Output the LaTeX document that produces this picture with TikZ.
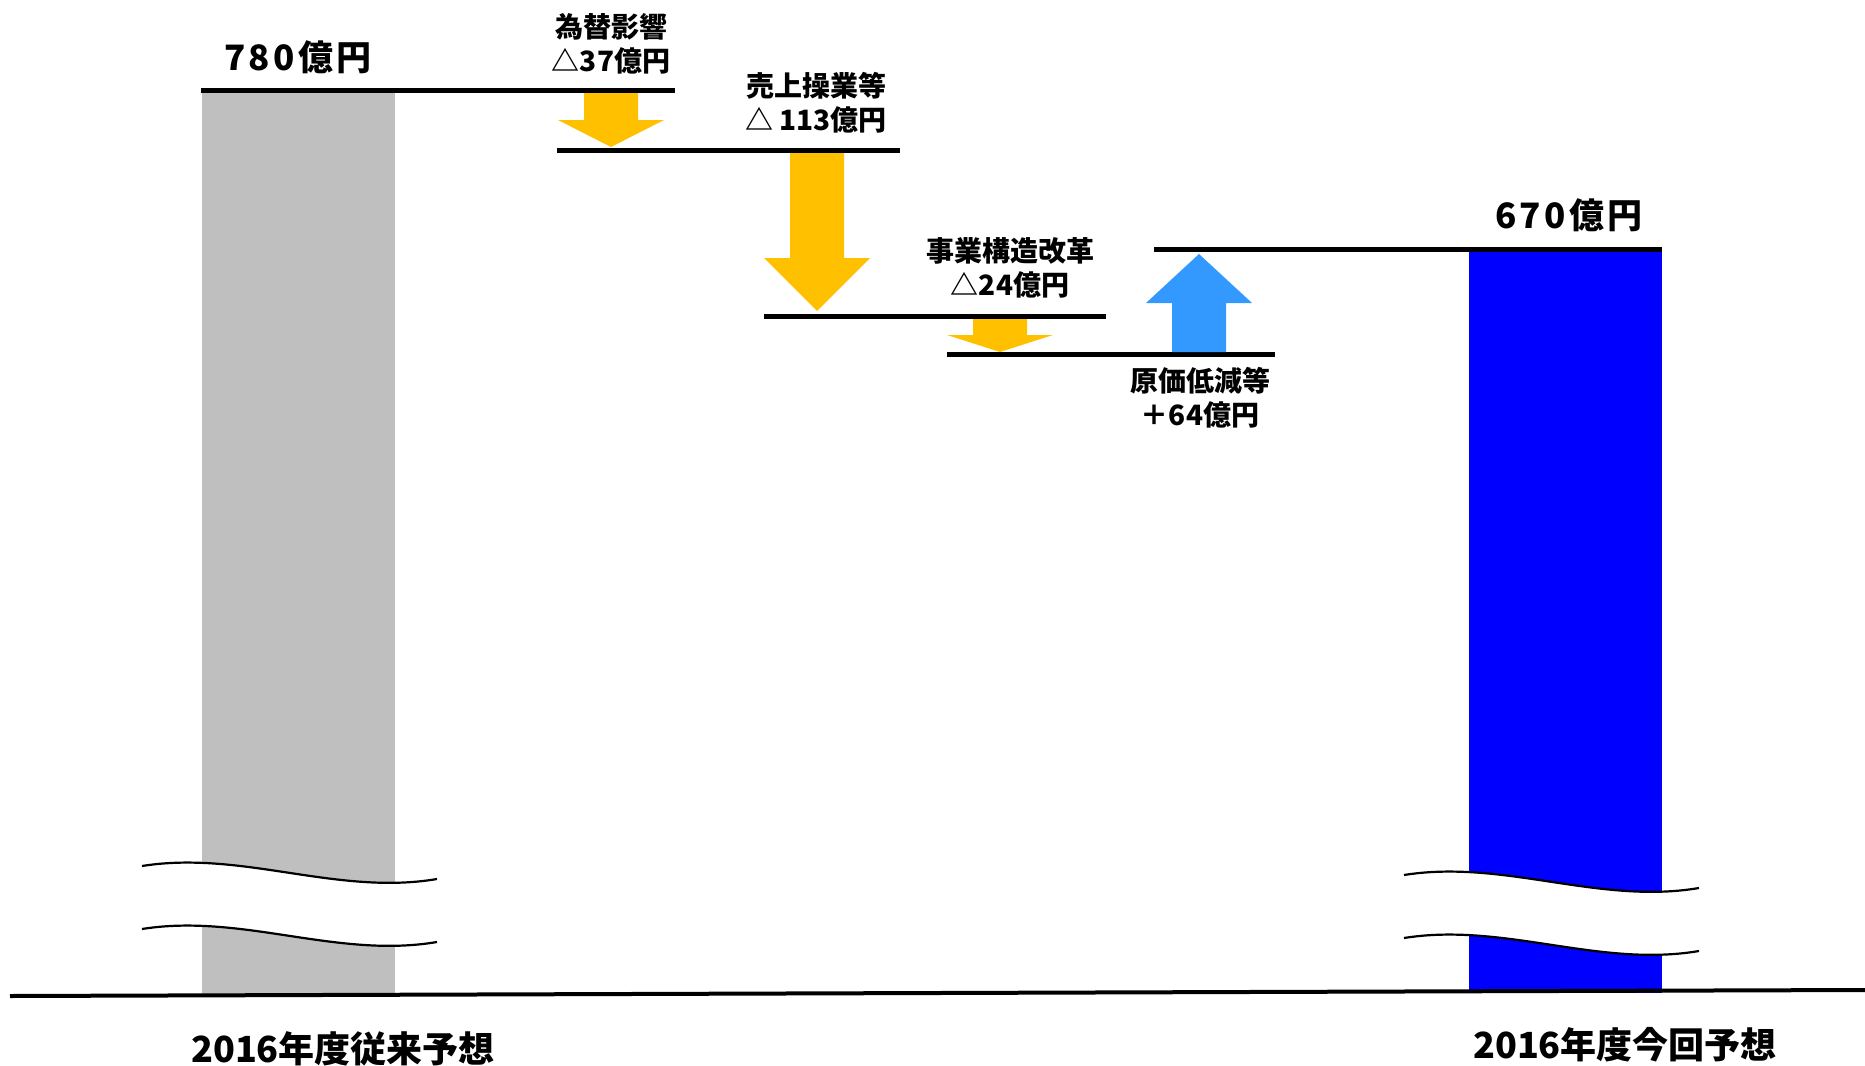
\documentclass[tikz,border=0pt]{standalone}
\usepackage{fontspec}
\setmainfont{Noto Sans CJK JP}
\usetikzlibrary{positioning, calc}
\definecolor{oldgray}{RGB}{191,191,191}
\definecolor{newblue}{RGB}{0,0,255}
\definecolor{downyellow}{RGB}{255,192,0}
\definecolor{upblue}{RGB}{51,153,255}
\tikzset{
    levelline/.style = {line width=2.5pt, black},
    stepnote/.style = {inner sep=0pt, align=center,
        font=\bfseries\fontsize{14}{17}\selectfont},
    totalnote/.style = {inner sep=0pt,
        font=\bfseries\fontsize{17.5}{20}\selectfont\addfontfeature{LetterSpace=10}},
    yearnote/.style = {inner sep=0pt, font=\bfseries\fontsize{18}{21}\selectfont},
    waveline/.style = {line width=1.1pt, black},
}
% block arrow: colour, centre x, shaft end y, head base y, tip y
\newcommand{\blockarrow}[5]{%
    \fill[#1] (#2-27,#3) -- (#2+27,#3) -- (#2+27,#4) -- (#2+53,#4)
        -- (#2,#5) -- (#2-53,#4) -- (#2-27,#4) -- cycle;}
% break mark over a bar: start x, start y
\newcommand{\breakmark}[2]{%
    \fill[white] (#1,#2) .. controls (#1+100,#2-16) and (#1+195,#2+30) .. (#1+295,#2+13)
        -- (#1+295,#2+76) .. controls (#1+195,#2+93) and (#1+100,#2+47) .. (#1,#2+63) -- cycle;
    \draw[waveline] (#1,#2) .. controls (#1+100,#2-16) and (#1+195,#2+30) .. (#1+295,#2+13);
    \draw[waveline] (#1,#2+63) .. controls (#1+100,#2+47) and (#1+195,#2+93) .. (#1+295,#2+76);}

\begin{document}
\begin{tikzpicture}[x=0.5pt, y=-0.5pt]
        \useasboundingbox (0,0) rectangle (1865,1066);
        % bars
        \fill[oldgray] (202,92) rectangle (395,995);
        \fill[newblue] (1469,251) rectangle (1662,993);
        \breakmark{142}{866}
        \breakmark{1404}{875}
        % ground line
        \coordinate (g0) at (10,996);
        \coordinate (g1) at (1865,990);
        \draw[line width=2pt] (g0) -- (g1);
        % levels
        \coordinate (l0a) at (201,90);   \coordinate (l0b) at (675,90);
        \coordinate (l1a) at (557,150);  \coordinate (l1b) at (900,150);
        \coordinate (l2a) at (764,316);  \coordinate (l2b) at (1106,316);
        \coordinate (l3a) at (947,354);  \coordinate (l3b) at (1275,354);
        \coordinate (l4a) at (1154,249); \coordinate (l4b) at (1662,249);
        \foreach \lv in {0,...,4}
            \draw[levelline] (l\lv a) -- (l\lv b);
        % steps
        \blockarrow{downyellow}{611}{93}{120}{147}
        \blockarrow{downyellow}{817}{153}{258}{311}
        \blockarrow{downyellow}{1000}{319}{335}{352}
        \blockarrow{upblue}{1199}{352}{303}{254}
        % texts
        \node[totalnote] (old) at (298,57) {780億円};
        \node[totalnote] (new) at (1569,215) {670億円};
        \node[stepnote] (fx) at (611,44) {為替影響\\△37億円};
        \node[stepnote] (sales) at (816,103) {売上操業等\\△ 113億円};
        \node[stepnote] (reform) at (1010,268) {事業構造改革\\△24億円};
        \node[stepnote] (cost) at (1200,398) {原価低減等\\＋64億円};
        \node[yearnote] (oldyear) at (343,1049) {2016年度従来予想};
        \node[yearnote] (newyear) at (1625,1045) {2016年度今回予想};
\end{tikzpicture}
\end{document}
